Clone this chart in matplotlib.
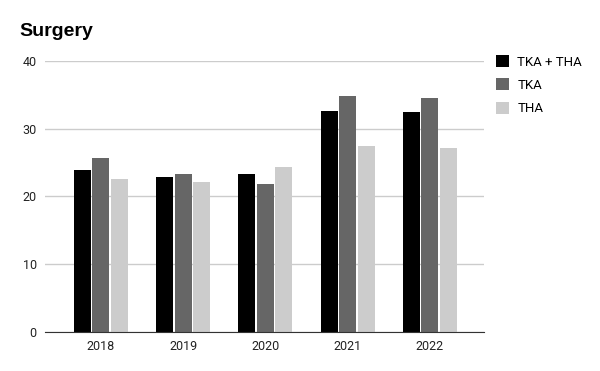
import matplotlib.pyplot as plt
import numpy as np

plt.rcParams['font.family'] = ['Roboto', 'DejaVu Sans']

# data
years = ['2018', '2019', '2020', '2021', '2022']
tka_tha = [23.9, 22.9, 23.3, 32.6, 32.5]
tka = [25.7, 23.3, 21.8, 34.8, 34.5]
tha = [22.6, 22.1, 24.4, 27.5, 27.2]

series = [('TKA + THA', tka_tha, '#000000'),
          ('TKA', tka, '#666666'),
          ('THA', tha, '#cccccc')]

fig = plt.figure(figsize=(6, 3.71), dpi=100)
ax = fig.add_axes([0.075, 0.105, 0.732, 0.731])

x = np.arange(len(years))
w = 0.205
step = 0.225
for i, (name, vals, col) in enumerate(series):
    ax.bar(x + (i - 1) * step, vals, width=w, color=col, label=name, zorder=3)

ax.set_ylim(0, 40)
ax.set_yticks([0, 10, 20, 30, 40])
ax.set_xlim(-0.68, 4.66)
ax.set_xticks(x)
ax.set_xticklabels(years)
ax.grid(axis='y', color='#cccccc', linewidth=1, zorder=0)
for s in ['top', 'right', 'left']:
    ax.spines[s].set_visible(False)
ax.spines['bottom'].set_color('#333333')
ax.spines['bottom'].set_zorder(4)
ax.tick_params(axis='both', length=0, labelsize=9, colors='#222222')
ax.tick_params(axis='y', pad=6)
ax.tick_params(axis='x', pad=6)

fig.text(0.033, 0.915, 'Surgery', fontsize=14, fontweight='bold', color='#000000',
         va='center', family=['Liberation Sans', 'DejaVu Sans'])

leg = ax.legend(loc='upper left', bbox_to_anchor=(1.0, 1.065), frameon=False,
                fontsize=9.5, handlelength=1.0, handleheight=1.0,
                labelspacing=0.75, handletextpad=0.6)

fig.savefig('out.png', dpi=100)
